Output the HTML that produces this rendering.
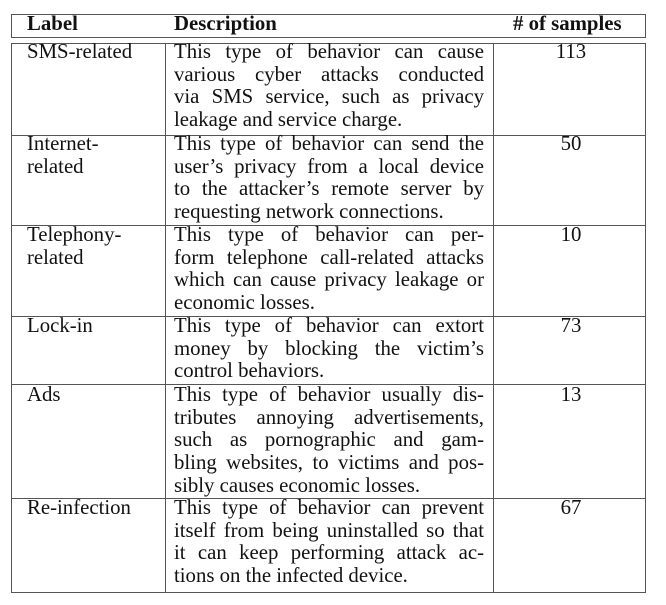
<!DOCTYPE html>
<html><head><meta charset="utf-8"><style>
body{margin:0;width:666px;height:605px;background:#fff;position:relative;font-family:"Liberation Serif",serif;color:#111;font-size:20.8px;}
.h{position:absolute;height:0;border-top:1.5px solid #555;}
.v{position:absolute;width:0;border-left:1.5px solid #555;}
.t{position:absolute;line-height:22.7px;}
.d div{text-align:justify;text-align-last:justify;white-space:nowrap;}
.d div.l{text-align-last:left;}
.d{width:310px;}
.n{width:150px;text-align:center;}
b{font-weight:bold;}
</style></head><body>
<div>
<div class="h" style="left:11px;width:635px;top:14px"></div>
<div class="h" style="left:11px;width:635px;top:37px"></div>
<div class="h" style="left:11px;width:635px;top:43px"></div>
<div class="h" style="left:11px;width:635px;top:135px"></div>
<div class="h" style="left:11px;width:635px;top:225px"></div>
<div class="h" style="left:11px;width:635px;top:316px"></div>
<div class="h" style="left:11px;width:635px;top:384px"></div>
<div class="h" style="left:11px;width:635px;top:498px"></div>
<div class="h" style="left:11px;width:635px;top:592px"></div>
<div class="v" style="left:11px;top:14px;height:23px"></div>
<div class="v" style="left:645px;top:14px;height:23px"></div>
<div class="v" style="left:11px;top:43px;height:549px"></div>
<div class="v" style="left:165px;top:43px;height:549px"></div>
<div class="v" style="left:493px;top:43px;height:549px"></div>
<div class="v" style="left:645px;top:43px;height:549px"></div>

<div class="t" style="left:27px;top:13px"><b>Label</b></div>
<div class="t" style="left:174px;top:13px"><b>Description</b></div>
<div class="t" style="left:513px;top:13px"><b># of samples</b></div>

<div class="t" style="left:27px;top:41px">SMS-related</div>
<div class="t d" style="left:174px;top:41px"><div>This type of behavior can cause</div><div>various cyber attacks conducted</div><div>via SMS service, such as privacy</div><div class="l">leakage and service charge.</div></div>
<div class="t n" style="left:496px;top:41px">113</div>

<div class="t" style="left:27px;top:133px">Internet-<br>related</div>
<div class="t d" style="left:174px;top:133px"><div>This type of behavior can send the</div><div>user’s privacy from a local device</div><div>to the attacker’s remote server by</div><div class="l">requesting network connections.</div></div>
<div class="t n" style="left:496px;top:133px">50</div>

<div class="t" style="left:27px;top:224px">Telephony-<br>related</div>
<div class="t d" style="left:174px;top:224px"><div>This type of behavior can per-</div><div>form telephone call-related attacks</div><div>which can cause privacy leakage or</div><div class="l">economic losses.</div></div>
<div class="t n" style="left:496px;top:224px">10</div>

<div class="t" style="left:27px;top:315px">Lock-in</div>
<div class="t d" style="left:174px;top:315px"><div>This type of behavior can extort</div><div>money by blocking the victim’s</div><div class="l">control behaviors.</div></div>
<div class="t n" style="left:496px;top:315px">73</div>

<div class="t" style="left:27px;top:384px">Ads</div>
<div class="t d" style="left:174px;top:384px"><div>This type of behavior usually dis-</div><div>tributes annoying advertisements,</div><div>such as pornographic and gam-</div><div>bling websites, to victims and pos-</div><div class="l">sibly causes economic losses.</div></div>
<div class="t n" style="left:496px;top:384px">13</div>

<div class="t" style="left:27px;top:497px">Re-infection</div>
<div class="t d" style="left:174px;top:497px"><div>This type of behavior can prevent</div><div>itself from being uninstalled so that</div><div>it can keep performing attack ac-</div><div class="l">tions on the infected device.</div></div>
<div class="t n" style="left:496px;top:497px">67</div>
</div>
</body></html>
